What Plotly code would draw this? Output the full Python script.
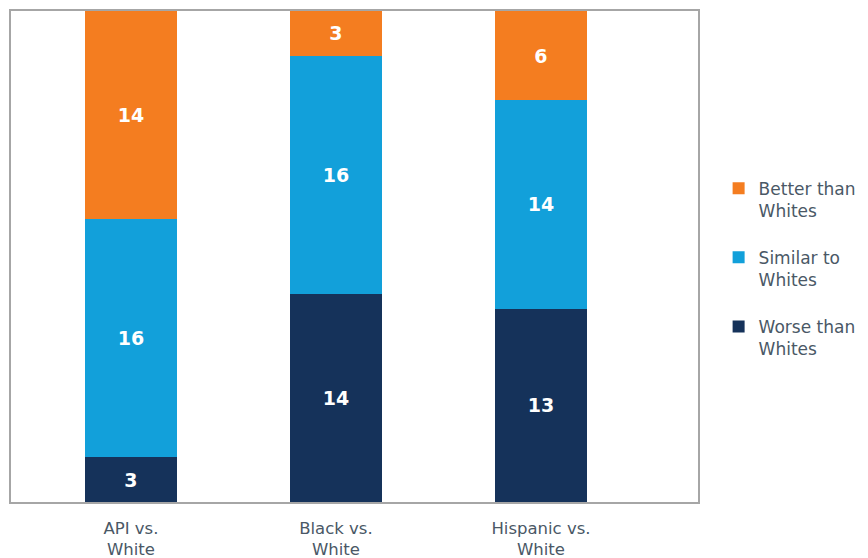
import plotly.graph_objects as go

categories = ["API vs.<br>White", "Black vs.<br>White", "Hispanic vs.<br>White"]
worse = [3, 14, 13]
similar = [16, 16, 14]
better = [14, 3, 6]

series = [
    ("Worse than<br>Whites", worse, "#15325A", 3),
    ("Similar to<br>Whites", similar, "#12A0DA", 2),
    ("Better than<br>Whites", better, "#F47D20", 1),
]

FONT = "DejaVu Sans, Open Sans, sans-serif"
TEXT_COLOR = "#4A5866"

fig = go.Figure()
for name, vals, color, rank in series:
    fig.add_trace(go.Bar(
        x=categories, y=vals, name=name, legendgroup=name, legendrank=rank,
        marker=dict(color=color, line=dict(width=0)),
        width=0.449,
        text=[str(v) for v in vals], textposition="inside",
        insidetextanchor="middle",
        textfont=dict(color="white", size=19, family=FONT, weight="bold"),
        hoverinfo="skip",
    ))

fig.update_layout(
    barmode="stack",
    width=868, height=558,
    margin=dict(l=11, r=170, t=11, b=56, autoexpand=False),
    plot_bgcolor="white", paper_bgcolor="white",
    font=dict(family=FONT, color=TEXT_COLOR, size=16),
    uniformtext=dict(mode="show", minsize=19),
    showlegend=True,
    legend=dict(
        x=1.03, xanchor="left", y=0.675, yanchor="top",
        traceorder="grouped", tracegroupgap=22,
        valign="top",
        font=dict(size=17, color=TEXT_COLOR, family=FONT),
        bgcolor="rgba(0,0,0,0)",
    ),
    xaxis=dict(
        range=[-0.585, 2.766], showgrid=False, zeroline=False,
        showline=True, linecolor="#A6A6A6", linewidth=2, mirror=True,
        tickfont=dict(size=16.5, color=TEXT_COLOR, family=FONT),
        ticks="", ticklabelstandoff=10, automargin=False,
    ),
    yaxis=dict(
        range=[0, 33], showgrid=False, zeroline=False,
        showticklabels=False, ticks="", automargin=False,
        showline=True, linecolor="#A6A6A6", linewidth=2, mirror=True,
    ),
)

fig.write_html("out.html")
